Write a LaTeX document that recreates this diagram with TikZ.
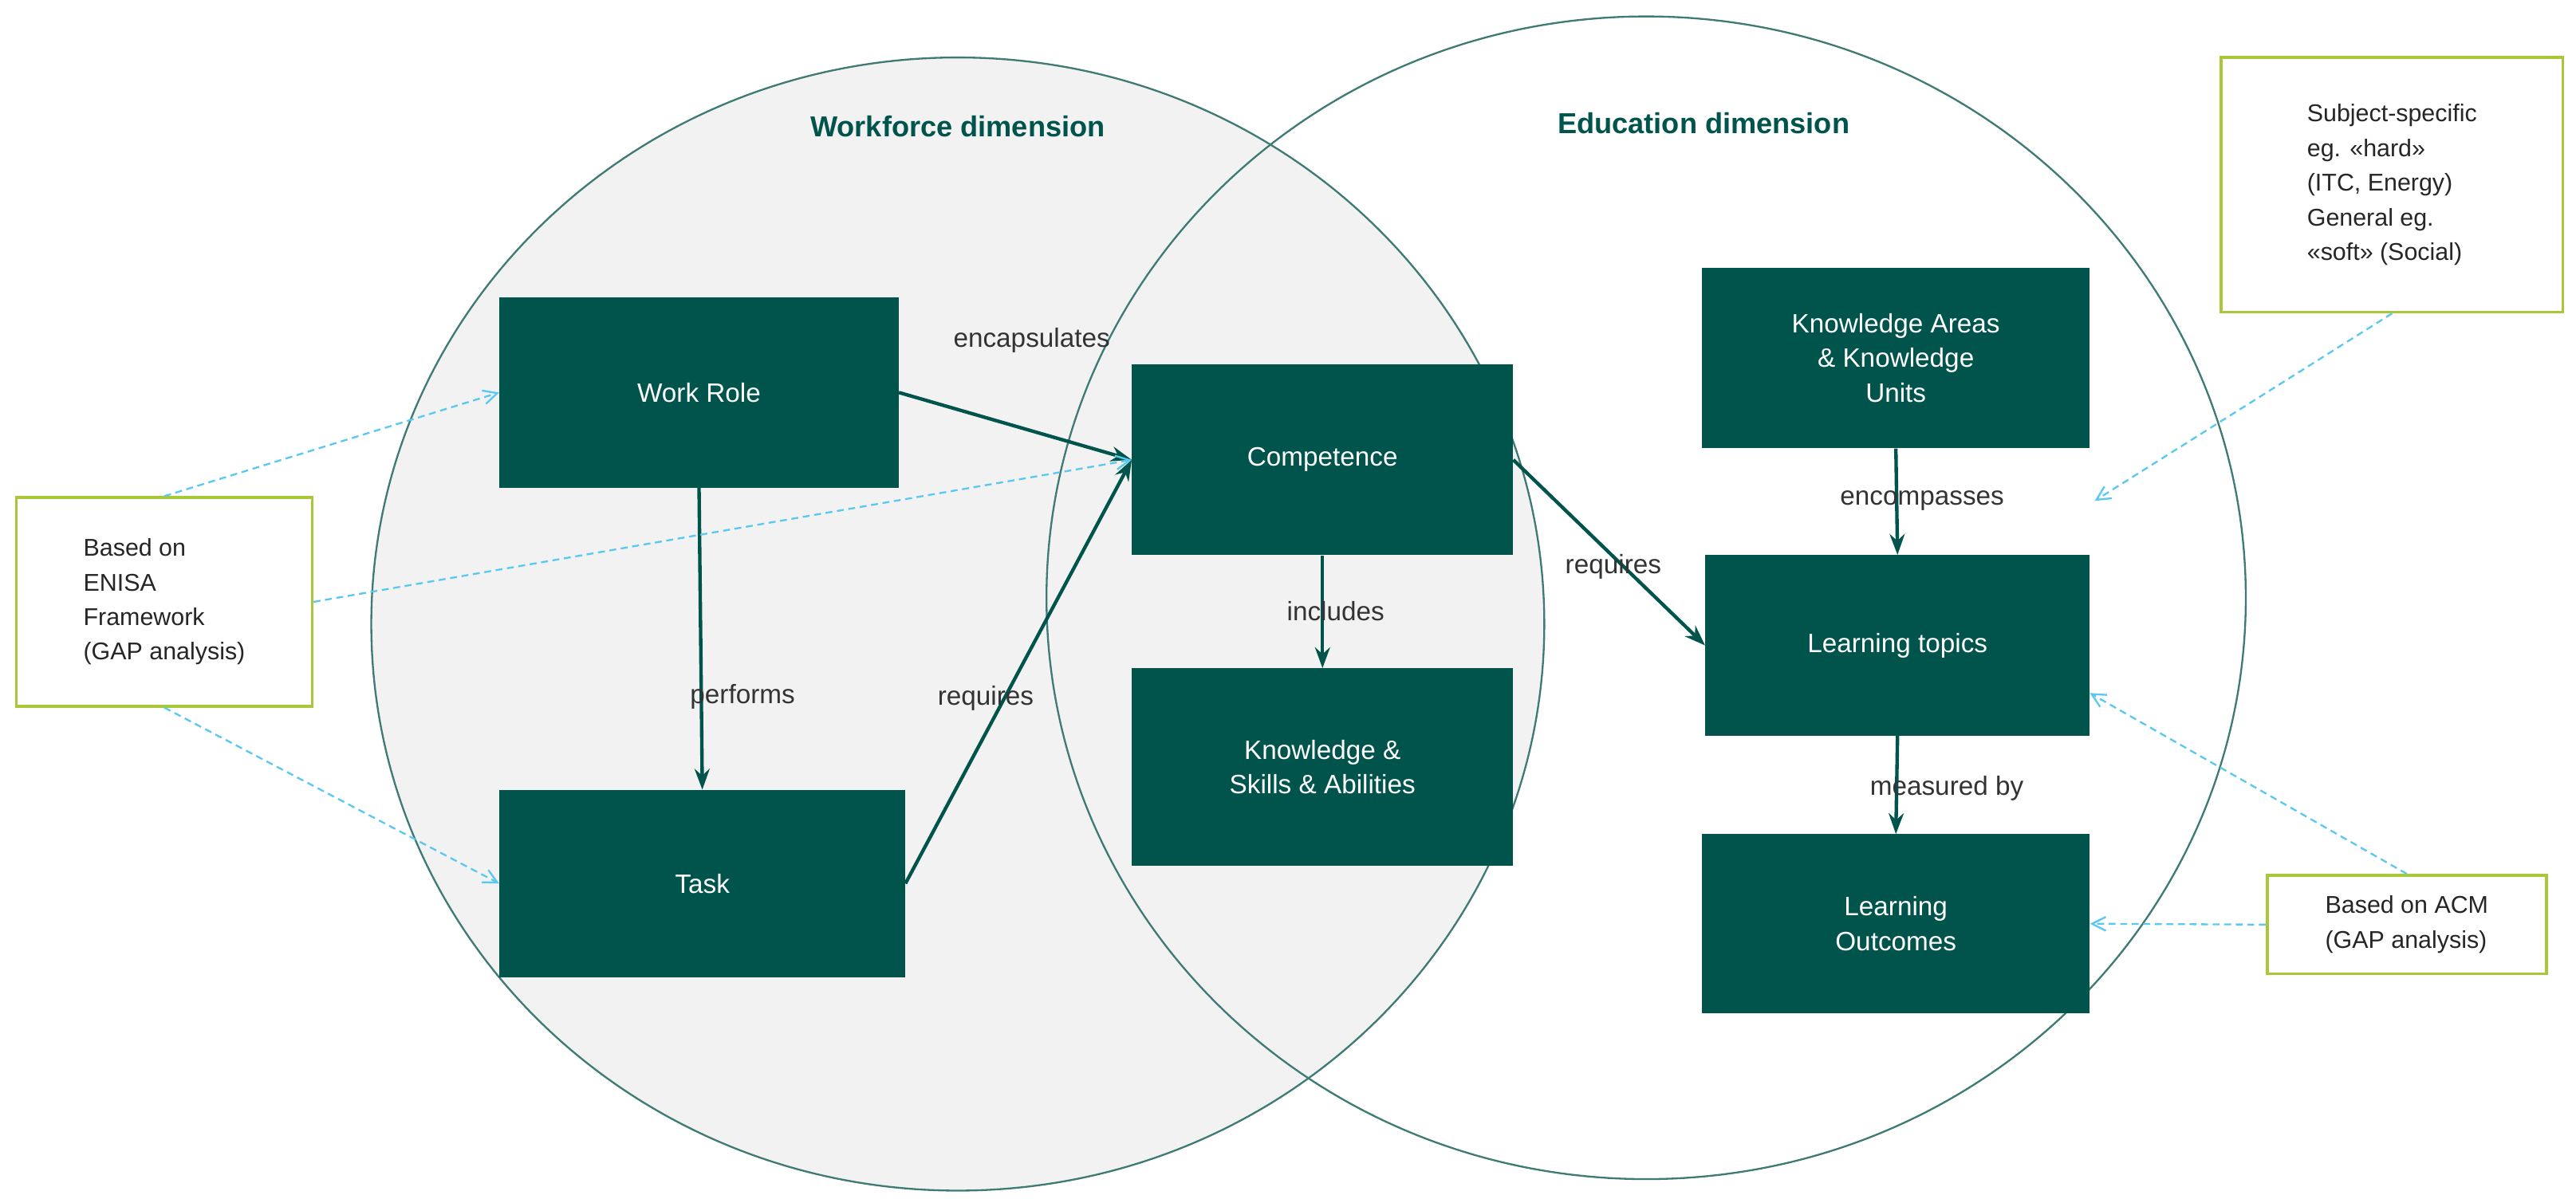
\documentclass[tikz,border=0pt]{standalone}
\usepackage{fontspec}
\setmainfont{Liberation Sans}
\usetikzlibrary{arrows.meta}
\definecolor{teal1}{HTML}{00544C}
\definecolor{ring}{HTML}{3F7B74}
\definecolor{gbord}{HTML}{A8C83A}
\definecolor{lblue}{HTML}{5BC8F0}
\begin{document}
\begin{tikzpicture}[x=0.05cm,y=-0.05cm,
 box/.style={fill=teal1,text=white,align=center,font=\fontsize{23}{30}\selectfont,inner sep=2pt},
 lab/.style={text=black!80,font=\fontsize{23}{28}\selectfont},
 ann/.style={draw=gbord,line width=2.5pt,fill=white,align=left,font=\fontsize{21}{30}\selectfont,text=black!85,inner sep=6pt},
 conn/.style={draw=teal1,line width=3pt,-{Stealth[length=18pt,width=13pt]}},
 blue dash/.style={draw=lblue,line width=1.6pt,dash pattern=on 6pt off 4pt,-{Straight Barb[length=12pt,width=12pt]}},
 title/.style={text=teal1,font=\bfseries\fontsize{25}{30}\selectfont}]
\useasboundingbox (0,0) rectangle (1568,730);
\fill[white] (0,0) rectangle (1568,730);
\draw[ring,line width=1.6pt,fill=black!5] (583,380) ellipse [x radius=357,y radius=345];
\draw[ring,line width=1.6pt] (1002,364) ellipse [x radius=365,y radius=354];
\node[title] (t1) at (583,77) {Workforce dimension};
\node[title] (t2) at (1037,75) {Education dimension};
\node[box,minimum width=12.15cm,minimum height=5.8cm] (wr) at (425.5,239) {Work Role};
\node[box,minimum width=12.35cm,minimum height=5.7cm] (task) at (427.5,538) {Task};
\node[box,minimum width=11.6cm,minimum height=5.8cm] (comp) at (805,280) {Competence};
\node[box,minimum width=11.6cm,minimum height=6cm] (ksa) at (805,467) {Knowledge \&\\Skills \& Abilities};
\node[box,minimum width=11.8cm,minimum height=5.5cm] (ka) at (1154,218) {Knowledge Areas\\\& Knowledge\\Units};
\node[box,minimum width=11.7cm,minimum height=5.5cm] (lt) at (1155,393) {Learning topics};
\node[box,minimum width=11.8cm,minimum height=5.45cm] (lo) at (1154,562.5) {Learning\\Outcomes};
\draw[conn] (wr.east) -- (comp.west);
\draw[conn] (task.east) -- (comp.west);
\draw[conn] (wr.south) -- (task.north);
\draw[conn] (comp.south) -- (ksa.north);
\draw[conn] (comp.east) -- (lt.west);
\draw[conn] (ka.south) -- (lt.north);
\draw[conn] (lt.south) -- (lo.north);
\node[lab] (l1) at (628,207) {encapsulates};
\node[lab] (l2) at (600,425) {requires};
\node[lab] (l3) at (452,424) {performs};
\node[lab] (l4) at (813,372) {includes};
\node[lab] (l5) at (982,345) {requires};
\node[lab] (l6) at (1170,305) {encompasses};
\node[lab] (l7) at (1185,480) {measured by};
\node[ann,minimum width=9cm,minimum height=6.35cm] (a1) at (100,366.5) {Based on\\ENISA\\Framework\\(GAP analysis)};
\node[ann,minimum width=10.4cm,minimum height=7.75cm] (a2) at (1456,112.5) {Subject-specific\\eg. «hard»\\(ITC, Energy)\\General eg.\\«soft» (Social)};
\node[ann,minimum width=8.5cm,minimum height=3cm] (a3) at (1465,563) {Based on ACM\\(GAP analysis)};
\coordinate (enc) at (1275,305);
\coordinate (lte) at (1272,422);
\draw[blue dash] (a1.north) -- (wr.west);
\draw[blue dash] (a1.east) -- (comp.west);
\draw[blue dash] (a1.south) -- (task.west);
\draw[blue dash] (a2.south) -- (enc);
\draw[blue dash] (a3.north) -- (lte);
\draw[blue dash] (a3.west) -- (lo.east);
\end{tikzpicture}
\end{document}
